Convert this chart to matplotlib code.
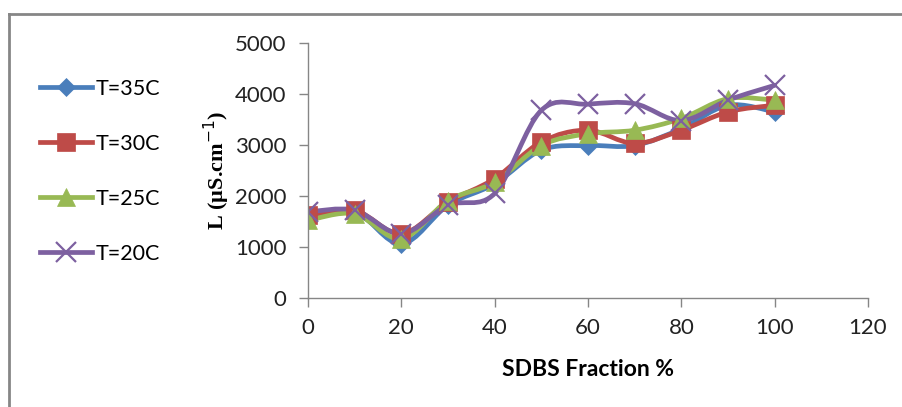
import numpy as np
import matplotlib
matplotlib.use("Agg")
import matplotlib.pyplot as plt
from matplotlib.path import Path
from matplotlib.patches import PathPatch
from matplotlib.lines import Line2D

# data
fraction = [0, 10, 20, 30, 40, 50, 60, 70, 80, 90, 100]
t35 = [1560, 1690, 1060, 1820, 2240, 2900, 2990, 2990, 3320, 3780, 3650]
t30 = [1620, 1720, 1260, 1880, 2340, 3060, 3290, 3030, 3290, 3650, 3780]
t25 = [1520, 1650, 1160, 1910, 2270, 2990, 3220, 3290, 3520, 3910, 3880]
t20 = [1690, 1720, 1260, 1820, 2050, 3680, 3800, 3810, 3480, 3880, 4170]

labels = ["T=35C", "T=30C", "T=25C", "T=20C"]
series = [t35, t30, t25, t20]
colors = ["#4A7EBB", "#BE4B48", "#98B954", "#7D60A0"]
markers = ["D", "s", "^", "x"]
msizes = [9, 13, 13, 14]

W, H = 903, 407
fig = plt.figure(figsize=(W / 100, H / 100), dpi=100)
ax = fig.add_axes([308 / W, 1 - 298 / H, 560 / W, 255 / H])


def smooth_path(x, y):
    # Excel-style smoothed line: cubic bezier through each point
    p = np.column_stack([x, y]).astype(float)
    n = len(p)
    verts = [p[0]]
    codes = [Path.MOVETO]
    for i in range(n - 1):
        p0 = p[i - 1] if i > 0 else p[i]
        p3 = p[i + 2] if i + 2 < n else p[i + 1]
        c1 = p[i] + (p[i + 1] - p0) / 6.0
        c2 = p[i + 1] - (p3 - p[i]) / 6.0
        verts += [c1, c2, p[i + 1]]
        codes += [Path.CURVE4] * 3
    return Path(verts, codes)


for vals, col, mk, ms in zip(series, colors, markers, msizes):
    patch = PathPatch(smooth_path(fraction, vals), facecolor="none",
                      edgecolor=col, lw=3.4, capstyle="round",
                      joinstyle="round")
    ax.add_patch(patch)
    ax.plot(fraction, vals, linestyle="none", marker=mk, ms=ms,
            color=col, mew=1.6 if mk == "x" else 0.5)

ax.set_xlim(0, 120)
ax.set_ylim(0, 5000)
ax.set_xticks(range(0, 121, 20))
ax.set_yticks(range(0, 5001, 1000))

gray = "#868686"
for s in ["top", "right"]:
    ax.spines[s].set_visible(False)
for s in ["left", "bottom"]:
    ax.spines[s].set_color(gray)
    ax.spines[s].set_linewidth(1.0)
ax.tick_params(axis="both", colors=gray, length=6.5, width=1.0,
               labelcolor="#222222", labelsize=16)
ax.tick_params(axis="y", pad=9)
ax.tick_params(axis="x", pad=8)
for t in ax.get_xticklabels() + ax.get_yticklabels():
    t.set_family("Lato")

ax.set_xlabel("SDBS Fraction %", fontsize=16.5, fontweight="bold",
              family="Lato", labelpad=15)
ax.set_ylabel("L (\u00b5S.cm$^{-1}$)", fontsize=16, fontweight="bold",
              family="Liberation Serif", labelpad=2)

handles = [Line2D([], [], color=c, lw=3.4, marker=m, ms=s,
                  mew=1.6 if m == "x" else 0.5)
           for c, m, s in zip(colors, markers, msizes)]
fig.legend(handles, labels, loc="upper left",
           bbox_to_anchor=(31 / W, 1 - 70 / H), frameon=False,
           handlelength=2.45, handletextpad=0.15, labelspacing=1.63,
           borderaxespad=0,
           prop={"family": "Lato", "size": 15.5})

# outer chart frame (only top and left visible)
fig.add_artist(Line2D([9 / W, 9 / W], [0, 1 - 14 / H], color=gray, lw=2,
                      transform=fig.transFigure))
fig.add_artist(Line2D([9 / W, 1], [1 - 14 / H, 1 - 14 / H], color=gray,
                      lw=2, transform=fig.transFigure))

fig.savefig("out.png", dpi=100)
